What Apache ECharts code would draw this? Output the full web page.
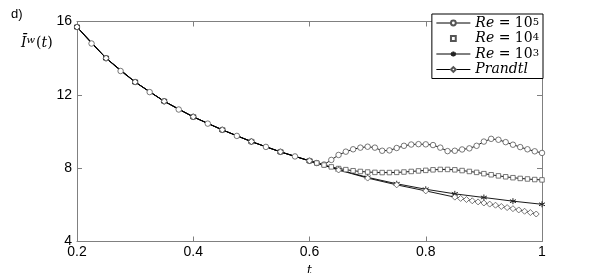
<!DOCTYPE html>
<html>
<head>
<meta charset="utf-8">
<script src="https://cdn.jsdelivr.net/npm/echarts@6/dist/echarts.min.js"></script>
<style>html,body{margin:0;padding:0;background:#fff;}#c{width:599px;height:273px;}</style>
</head>
<body>
<div id="c"></div>
<script>
// ---- data ----
var xTicks = [0.2, 0.4, 0.6, 0.8, 1.0];
var yTicks = [4, 8, 12, 16];

var re5T = [0.2,0.225,0.25,0.275,0.3,0.325,0.35,0.375,0.4,0.425,0.45,0.475,0.5,0.525,0.55,0.575,0.6,
  0.6125,0.625,0.6375,0.65,0.6625,0.675,0.6875,0.7,0.7125,0.725,0.7375,0.75,0.7625,0.775,0.7875,0.8,
  0.8125,0.825,0.8375,0.85,0.8625,0.875,0.8875,0.9,0.9125,0.925,0.9375,0.95,0.9625,0.975,0.9875,1.0];
var re5V = [15.70,14.80,14.00,13.30,12.70,12.15,11.65,11.20,10.80,10.43,10.09,9.76,9.45,9.16,8.89,8.64,8.40,
  8.28,8.20,8.45,8.72,8.90,9.03,9.12,9.17,9.12,8.95,8.97,9.10,9.22,9.29,9.31,9.30,
  9.26,9.12,8.93,8.95,9.02,9.08,9.22,9.45,9.60,9.55,9.42,9.28,9.15,9.03,8.92,8.83];

var re4T = [0.2,0.25,0.3,0.35,0.4,0.45,0.5,0.55,0.6,
  0.6125,0.625,0.6375,0.65,0.6625,0.675,0.6875,0.7,0.7125,0.725,0.7375,0.75,0.7625,0.775,0.7875,0.8,
  0.8125,0.825,0.8375,0.85,0.8625,0.875,0.8875,0.9,0.9125,0.925,0.9375,0.95,0.9625,0.975,0.9875,1.0];
var re4V = [15.70,14.00,12.70,11.65,10.80,10.09,9.45,8.89,8.40,
  8.28,8.17,8.07,7.98,7.92,7.86,7.82,7.79,7.77,7.76,7.76,7.77,7.79,7.82,7.85,7.88,
  7.91,7.93,7.93,7.91,7.87,7.82,7.77,7.70,7.64,7.58,7.53,7.48,7.44,7.41,7.38,7.36];

var re3T = [0.2,0.25,0.3,0.35,0.4,0.45,0.5,0.55,0.6,0.65,0.7,0.75,0.8,0.85,0.9,0.95,1.0];
var re3V = [15.70,14.00,12.70,11.65,10.80,10.09,9.45,8.89,8.40,7.92,7.50,7.15,6.85,6.60,6.40,6.20,6.03];

var prT = [0.2,0.25,0.3,0.35,0.4,0.45,0.5,0.55,0.6,0.65,0.7,0.75,0.8,0.85,
  0.86,0.87,0.88,0.89,0.9,0.91,0.92,0.93,0.94,0.95,0.96,0.97,0.98,0.99];
var prV = [15.70,14.00,12.70,11.65,10.80,10.09,9.45,8.89,8.40,7.90,7.46,7.09,6.76,6.42,
  6.35,6.29,6.22,6.16,6.10,6.04,5.98,5.91,5.85,5.79,5.72,5.65,5.58,5.50];

function pairs(t, v) { return t.map(function (x, i) { return [x, v[i]]; }); }

var asterisk = 'path://M0,-5L0,5M-4.33,-2.5L4.33,2.5M-4.33,2.5L4.33,-2.5';
var frame = '#808080';
var lineW = 0.9;

var chart = echarts.init(document.getElementById('c'), null, {renderer: 'canvas'});

var axisCommon = {
  axisLine: {show: true, onZero: false, lineStyle: {color: frame, width: 1}},
  axisTick: {show: true, inside: true, length: 5, lineStyle: {color: frame}},
  splitLine: {show: false}
};

function mkSeries(name, data, symbol, size, extra) {
  var s = {
    name: name, type: 'line', data: data, symbol: symbol, symbolSize: size,
    showSymbol: true, animation: false, z: 3,
    lineStyle: {color: '#000', width: lineW},
    itemStyle: {color: '#fff', borderColor: '#555', borderWidth: 0.8},
    emphasis: {disabled: true}
  };
  for (var k in extra) s[k] = extra[k];
  return s;
}

var richLeg = {
  it: {fontFamily: 'DejaVu Serif', fontStyle: 'italic', fontSize: 14, color: '#000', lineHeight: 12},
  rm: {fontFamily: 'DejaVu Serif', fontSize: 14, color: '#000', lineHeight: 12},
  sup: {fontFamily: 'DejaVu Serif', fontSize: 10, color: '#000', verticalAlign: 'top', lineHeight: 12}
};
var legLabels = {
  'Re5': '{it|Re}{rm| = 10}{sup|5}',
  'Re4': '{it|Re}{rm| = 10}{sup|4}',
  'Re3': '{it|Re}{rm| = 10}{sup|3}',
  'Prandtl': '{it|Prandtl}'
};

var option = {
  backgroundColor: '#fff',
  animation: false,
  title: {text: 'd)', left: 6, top: 3, textStyle: {fontFamily: 'Liberation Sans', fontSize: 13, fontWeight: 'normal', color: '#000'}},
  grid: {left: 77, right: 57, top: 21.5, bottom: 31.5, show: false, outerBoundsMode: 'none', containLabel: false},
  legend: {
    orient: 'vertical', right: 56, top: 14,
    backgroundColor: '#fff', borderColor: '#000', borderWidth: 1,
    padding: [2, 4, 2, 4], itemGap: 1.5, itemWidth: 34, itemHeight: 6,
    lineStyle: {width: 1, color: '#000'},
    data: [
      {name: 'Re5'},
      {name: 'Re4', lineStyle: {opacity: 0}},
      {name: 'Re3'},
      {name: 'Prandtl'}
    ],
    formatter: function (n) { return legLabels[n]; },
    textStyle: {rich: richLeg, lineHeight: 12}
  },
  xAxis: [
    Object.assign({
      type: 'value', min: 0.2, max: 1.0, interval: 0.2, position: 'bottom',
      name: 't', nameLocation: 'middle', nameGap: 21,
      nameTextStyle: {fontFamily: 'DejaVu Serif', fontStyle: 'italic', fontSize: 12, color: '#000'},
      axisLabel: {color: '#000', fontFamily: 'Liberation Sans', fontSize: 14, margin: 4,
        formatter: function (v) { var r = Math.round(v * 10) / 10; return xTicks.indexOf(r) >= 0 ? (r === 1 ? '1' : r.toFixed(1)) : ''; }}
    }, axisCommon),
    Object.assign({
      type: 'value', min: 0.2, max: 1.0, interval: 0.2, position: 'top',
      axisLabel: {show: false}
    }, axisCommon)
  ],
  yAxis: [
    Object.assign({
      type: 'value', min: 4, max: 16, interval: 4, position: 'left',
      axisLabel: {color: '#000', fontFamily: 'Liberation Sans', fontSize: 14, margin: 5,
        formatter: function (v) { return yTicks.indexOf(v) >= 0 ? String(v) : ''; }}
    }, axisCommon),
    Object.assign({
      type: 'value', min: 4, max: 16, interval: 4, position: 'right',
      axisLabel: {show: false}
    }, axisCommon)
  ],
  graphic: [{
    type: 'text', left: 21, top: 35,
    style: {
      text: '{i|Ī}{s|w}{r|(}{i|t}{r|)}',
      rich: {
        i: {fontFamily: 'DejaVu Serif', fontStyle: 'italic', fontSize: 14, fill: '#000'},
        r: {fontFamily: 'DejaVu Serif', fontSize: 14, fill: '#000'},
        s: {fontFamily: 'DejaVu Serif', fontStyle: 'italic', fontSize: 10, fill: '#000', verticalAlign: 'top', padding: [0,1,7,0]}
      }
    }
  }],
  series: [
    mkSeries('Re5', pairs(re5T, re5V), 'circle', 5.5, {}),
    mkSeries('Re4', pairs(re4T, re4V), 'rect', 4.5, {}),
    mkSeries('Re3', pairs(re3T, re3V), asterisk, 6, {itemStyle: {color: 'none', borderColor: '#222', borderWidth: 1}}),
    mkSeries('Prandtl', pairs(prT, prV), 'diamond', 6, {})
  ]
};
chart.setOption(option);
</script>
</body>
</html>
